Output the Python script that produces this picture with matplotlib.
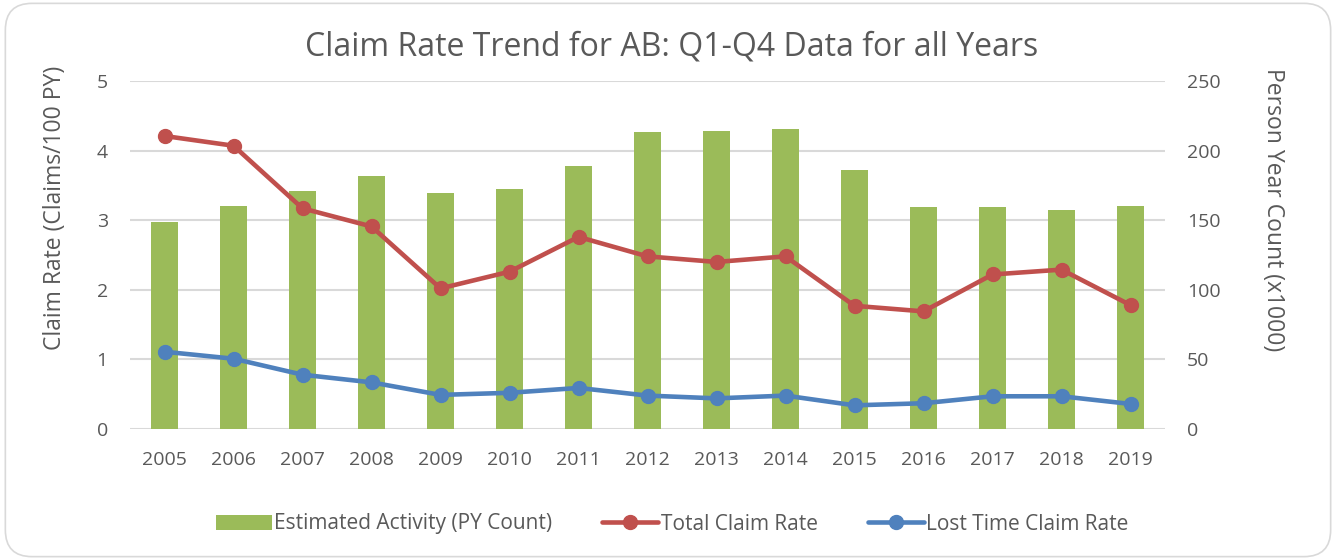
import matplotlib
matplotlib.use("Agg")
import matplotlib.pyplot as plt
from matplotlib.patches import FancyBboxPatch
import numpy as np

years = ["2005", "2006", "2007", "2008", "2009", "2010", "2011", "2012",
         "2013", "2014", "2015", "2016", "2017", "2018", "2019"]
py_count = [148.7, 160.4, 171.2, 181.5, 169.5, 172.2, 188.7, 213.4,
            214.1, 215.3, 186.3, 159.5, 159.7, 157.3, 160.0]
total_rate = [4.21, 4.07, 3.17, 2.91, 2.02, 2.26, 2.76, 2.48,
              2.40, 2.48, 1.77, 1.69, 2.22, 2.29, 1.78]
lost_time_rate = [1.11, 1.01, 0.78, 0.67, 0.49, 0.52, 0.59, 0.48,
                  0.44, 0.48, 0.34, 0.37, 0.47, 0.47, 0.36]
left_ticks = [0, 1, 2, 3, 4, 5]
right_ticks = [0, 50, 100, 150, 200, 250]

plt.rcParams['font.family'] = ['Open Sans', 'DejaVu Sans']
txt = '#595959'
green = '#9BBB59'
red = '#C0504D'
blue = '#4F81BD'
grid = '#D9D9D9'

fig = plt.figure(figsize=(13.36, 5.6), dpi=100)
border = FancyBboxPatch((0.004, 0.006), 0.992, 0.988, boxstyle="round,pad=0,rounding_size=0.02",
                        transform=fig.transFigure, facecolor='none', edgecolor=grid, lw=1.2,
                        mutation_aspect=1336/560, zorder=-5)
fig.patches.append(border)

ax = fig.add_axes([130/1336, 1 - 429/560, (1165 - 130)/1336, (429 - 81)/560])
ax2 = ax.twinx()
x = np.arange(len(years))

ax2.bar(x, py_count, width=0.4, color=green, zorder=2, label='Estimated Activity (PY Count)')
ax2.set_ylim(0, 250)
ax.set_ylim(0, 5)
ax.set_xlim(-0.5, len(years) - 0.5)

ax.set_zorder(ax2.get_zorder() + 1)
ax.patch.set_visible(False)
for v in left_ticks:
    ax2.axhline(v * 50, color=grid, lw=1.5, zorder=0)

l1, = ax.plot(x, total_rate, color=red, lw=3.3, marker='o', markersize=10, label='Total Claim Rate',
              solid_capstyle='round')
l2, = ax.plot(x, lost_time_rate, color=blue, lw=3.3, marker='o', markersize=10, label='Lost Time Claim Rate',
              solid_capstyle='round')

for a in (ax, ax2):
    for s in a.spines.values():
        s.set_visible(False)
    a.tick_params(length=0, colors=txt, labelsize=14)

ax.set_xticks(x)
ax.set_xticklabels(years)
ax.set_yticks(left_ticks)
ax2.set_yticks(right_ticks)
ax.tick_params(axis='y', pad=16)
ax2.tick_params(axis='y', pad=16)
ax.tick_params(axis='x', pad=16)

ax.set_ylabel('Claim Rate (Claims/100 PY)', color=txt, fontsize=16.5, va='center')
ax.yaxis.set_label_coords(-0.0725, 0.635)
ax2.set_ylabel('Person Year Count (x1000)', color=txt, fontsize=16.5, rotation=270, va='center')
ax2.yaxis.set_label_coords(1.104, 0.629)

fig.text(0.503, 1 - 47/560, 'Claim Rate Trend for AB: Q1-Q4 Data for all Years', ha='center', va='center',
         color=txt, fontsize=23)

handles = [ax2.patches[0], l1, l2]
labels = ['Estimated Activity (PY Count)', 'Total Claim Rate', 'Lost Time Claim Rate']
leg = fig.legend(handles, labels, loc='center', bbox_to_anchor=(0.503, 1 - 524/560), ncol=3,
                 frameon=False, fontsize=15, handlelength=2.7, columnspacing=2.4, handletextpad=0.1,
                 labelcolor=txt)

fig.savefig('out.png', dpi=100)
